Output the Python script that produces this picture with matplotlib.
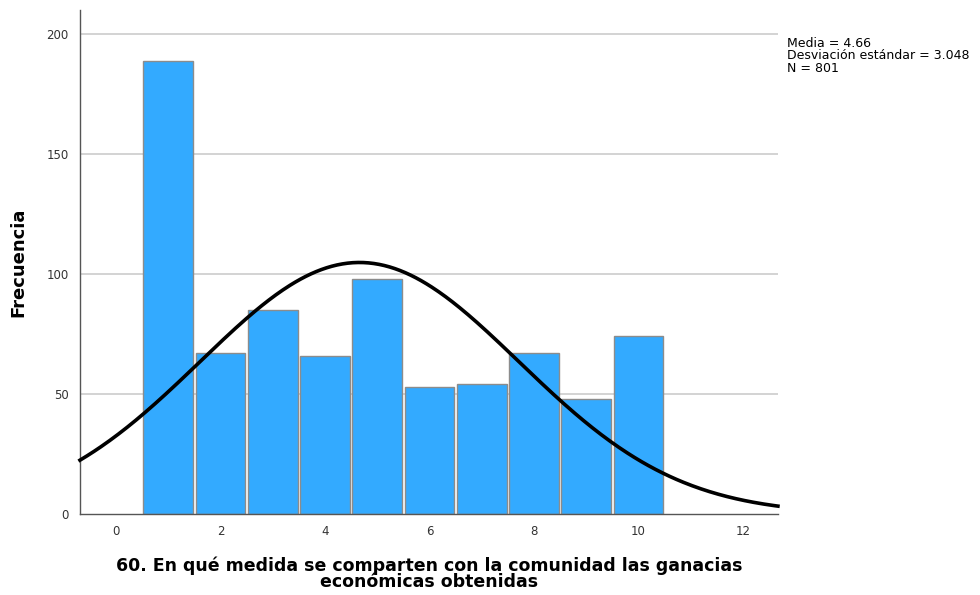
import matplotlib.pyplot as plt
import numpy as np

# Histogram data (values 1..10)
valores = [1, 2, 3, 4, 5, 6, 7, 8, 9, 10]
frecuencias = [189, 67, 85, 66, 98, 53, 54, 67, 48, 74]
media = 4.66
desv = 3.048
n = 801

fig = plt.figure(figsize=(9.8, 5.95), dpi=100)
ax = fig.add_axes([0.0816, 0.136, 0.7122, 0.847])

ax.set_xlim(-0.69, 12.67)
ax.set_ylim(0, 210)

# grid lines
for y in [50, 100, 150, 200]:
    ax.axhline(y, color="#d0d0d0", linewidth=1.3, zorder=0)

ax.bar(valores, frecuencias, width=0.95, color="#33aaff", edgecolor="#8c8c8c",
       linewidth=1.0, zorder=2)

# normal curve
xs = np.linspace(-0.69, 12.67, 400)
ys = n * 1.0 / (desv * np.sqrt(2 * np.pi)) * np.exp(-0.5 * ((xs - media) / desv) ** 2)
ax.plot(xs, ys, color="black", linewidth=2.6, zorder=3, clip_on=False)

ax.set_xticks([0, 2, 4, 6, 8, 10, 12])
ax.set_yticks([0, 50, 100, 150, 200])
ax.tick_params(length=0, labelsize=8.5, colors="#333333", pad=8)
for s in ["top", "right"]:
    ax.spines[s].set_visible(False)
for s in ["left", "bottom"]:
    ax.spines[s].set_color("#555555")
    ax.spines[s].set_linewidth(1.0)

ax.set_ylabel("Frecuencia", fontsize=13, fontweight="bold", labelpad=14)
ax.set_xlabel("60. En qué medida se comparten con la comunidad las ganacias\neconómicas obtenidas",
              fontsize=12.5, fontweight="bold", labelpad=13, linespacing=0.85)

fig.text(0.803, 0.938, "Media = 4.66\nDesviación estándar = 3.048\nN = 801",
         fontsize=9, va="top", ha="left", linespacing=0.95)

fig.savefig("out.png", dpi=100)
